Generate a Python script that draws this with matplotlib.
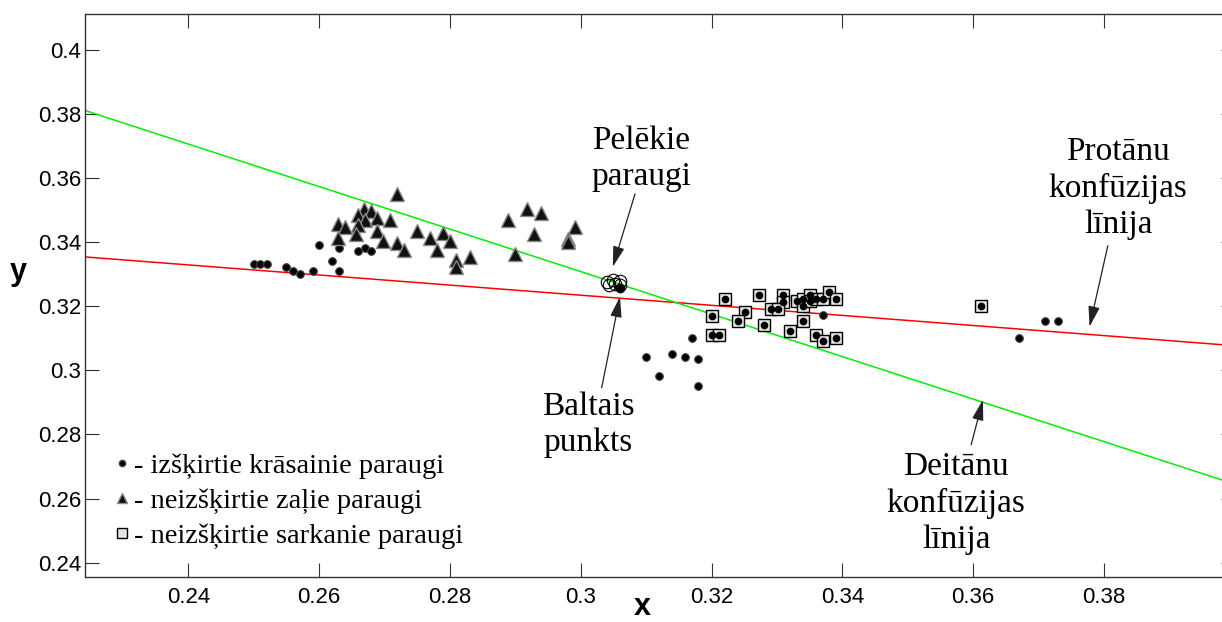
import matplotlib
matplotlib.use("Agg")
import matplotlib.pyplot as plt
from matplotlib.lines import Line2D

# izšķirtie krāsainie paraugi (dots)
dots_x = [0.250, 0.251, 0.252, 0.255, 0.256, 0.257, 0.259, 0.260, 0.262, 0.263, 0.263,
          0.266, 0.267, 0.268,
          0.310, 0.312, 0.314, 0.316, 0.318, 0.318, 0.317, 0.337,
          0.367, 0.371, 0.373]
dots_y = [0.3332, 0.3332, 0.3332, 0.3322, 0.3311, 0.3301, 0.3311, 0.3392, 0.3342, 0.3311, 0.3381,
          0.3373, 0.3381, 0.3373,
          0.3043, 0.2983, 0.3051, 0.3043, 0.3035, 0.2952, 0.3102, 0.3173,
          0.3101, 0.3153, 0.3153]

# neizšķirtie zaļie paraugi (triangles)
tri_x = [0.2719, 0.2668, 0.2679, 0.2660, 0.2670, 0.2688, 0.2708, 0.2629, 0.2640, 0.2660,
         0.2688, 0.2657, 0.2629, 0.2698, 0.2719, 0.2729, 0.2749, 0.2770, 0.2790, 0.2800,
         0.2780, 0.2810, 0.2810, 0.2831, 0.2900, 0.2889, 0.2918, 0.2939, 0.2929, 0.2991,
         0.2981, 0.2981]
tri_y = [0.3551, 0.3503, 0.3496, 0.3485, 0.3470, 0.3475, 0.3468, 0.3457, 0.3447, 0.3454,
         0.3435, 0.3426, 0.3413, 0.3405, 0.3397, 0.3376, 0.3435, 0.3414, 0.3428, 0.3405,
         0.3376, 0.3345, 0.3324, 0.3355, 0.3364, 0.3468, 0.3503, 0.3492, 0.3426, 0.3447,
         0.3410, 0.3402]

# neizšķirtie sarkanie paraugi (squares)
sq_x = [0.3221, 0.3272, 0.3310, 0.3310, 0.3330, 0.3340, 0.3340, 0.3350, 0.3350, 0.3360,
        0.3370, 0.3380, 0.3391, 0.3291, 0.3301, 0.3251, 0.3241, 0.3201, 0.3201, 0.3211,
        0.3280, 0.3320, 0.3340, 0.3360, 0.3370, 0.3391, 0.3612]
sq_y = [0.3222, 0.3234, 0.3234, 0.3212, 0.3215, 0.3222, 0.3201, 0.3234, 0.3215, 0.3222,
        0.3222, 0.3244, 0.3222, 0.3192, 0.3192, 0.3182, 0.3153, 0.3171, 0.3111, 0.3111,
        0.3142, 0.3124, 0.3153, 0.3111, 0.3093, 0.3101, 0.3202]

# pelēkie paraugi and baltais punkts
gray_x = [0.3040, 0.3050, 0.3060, 0.3043, 0.3053, 0.3060]
gray_y = [0.3275, 0.3282, 0.3280, 0.3265, 0.3270, 0.3266]
white_x = [0.3060]
white_y = [0.3257]

# confusion lines (values at the axis edges)
protan_x = [0.2242, 0.400]
protan_y = [0.3354, 0.3077]
deutan_x = [0.2242, 0.400]
deutan_y = [0.3811, 0.2645]

xticks = [0.24, 0.26, 0.28, 0.30, 0.32, 0.34, 0.36, 0.38]
xtick_labels = ["0.24", "0.26", "0.28", "0.3", "0.32", "0.34", "0.36", "0.38"]
yticks = [0.24, 0.26, 0.28, 0.30, 0.32, 0.34, 0.36, 0.38, 0.40]
ytick_labels = ["0.24", "0.26", "0.28", "0.3", "0.32", "0.34", "0.36", "0.38", "0.4"]

legend_labels = ["- izšķirtie krāsainie paraugi",
                 "- neizšķirtie zaļie paraugi",
                 "- neizšķirtie sarkanie paraugi"]

serif = "Liberation Serif"
sans = "Liberation Sans"

fig = plt.figure(figsize=(12.22, 6.22), dpi=100)
ax = fig.add_axes([0.0696, 0.0723, 0.9408, 0.9051])

ax.plot(protan_x, protan_y, color="#ff0000", lw=1.1, zorder=2)
ax.plot(deutan_x, deutan_y, color="#00ee00", lw=1.1, zorder=2)

ax.plot(dots_x, dots_y, ls="none", marker="o", ms=5.5, mfc="black", mec="#444444", mew=0.8, zorder=3)
ax.plot(tri_x, tri_y, ls="none", marker="^", ms=10, mfc="#111111", mec="#8a8a8a", mew=1.0, zorder=3)
ax.plot(sq_x, sq_y, ls="none", marker="s", ms=9, mfc="#e4e4e4", mec="black", mew=1.0, zorder=3)
ax.plot(sq_x, sq_y, ls="none", marker="o", ms=4.5, mfc="black", mec="black", zorder=4)
ax.plot(gray_x, gray_y, ls="none", marker="o", ms=9, mfc="none", mec="black", mew=0.8, zorder=3)
ax.plot(white_x, white_y, ls="none", marker="o", ms=6, mfc="black", mec="black", zorder=4)

ax.set_xlim(0.2242, 0.400)
ax.set_ylim(0.2355, 0.4112)
ax.set_xticks(xticks)
ax.set_xticklabels(xtick_labels, fontfamily=sans, fontsize=16)
ax.set_yticks(yticks)
ax.set_yticklabels(ytick_labels, fontfamily=sans, fontsize=16)
ax.tick_params(direction="in", length=10, width=0.8, color="#333333", top=True, right=True)
ax.tick_params(axis="x", pad=7)
ax.tick_params(axis="y", pad=3)
for s in ax.spines.values():
    s.set_color("#333333")
    s.set_linewidth(1.0)

fig.text(642 / 1222, 1 - 607 / 622, "x", fontfamily=sans, fontsize=22, fontweight="bold",
         ha="center", va="center")
fig.text(18 / 1222, 1 - 272 / 622, "y", fontfamily=sans, fontsize=22, fontweight="bold",
         ha="center", va="center")

# legend without frame
handles = [
    Line2D([], [], ls="none", marker="o", ms=4.5, mfc="black", mec="#444444"),
    Line2D([], [], ls="none", marker="^", ms=7.5, mfc="#111111", mec="#8a8a8a"),
    Line2D([], [], ls="none", marker="s", ms=6.5, mfc="#e4e4e4", mec="black"),
]
ax.legend(handles, legend_labels, loc="lower left", bbox_to_anchor=(0.004, 0.004),
          frameon=False, handlelength=0.5, handletextpad=0.15, labelspacing=0.32,
          prop={"family": serif, "size": 20.5})

# annotations
arrow = dict(arrowstyle="-|>,head_length=0.9,head_width=0.25", color="#222222", lw=0.9,
             shrinkA=0, shrinkB=0, mutation_scale=14)
txt = dict(fontfamily=serif, fontsize=24, ha="center", va="center", linespacing=1.25)

ax.annotate("", xy=(0.3049, 0.3323), xytext=(0.3083, 0.3551), arrowprops=arrow)
ax.text(0.3093, 0.3660, "Pelēkie\nparaugi", **txt)

ax.annotate("", xy=(0.3060, 0.3230), xytext=(0.3032, 0.2946), arrowprops=arrow)
ax.text(0.3011, 0.2830, "Baltais\npunkts", **txt)

ax.annotate("", xy=(0.3778, 0.3136), xytext=(0.3806, 0.3389), arrowprops=arrow)
ax.text(0.3822, 0.3568, "Protānu\nkonfūzijas\nlīnija", **txt)

ax.annotate("", xy=(0.3615, 0.2908), xytext=(0.3597, 0.2768), arrowprops=arrow)
ax.text(0.3574, 0.2585, "Deitānu\nkonfūzijas\nlīnija", **txt)

fig.savefig("out.png", dpi=100)
